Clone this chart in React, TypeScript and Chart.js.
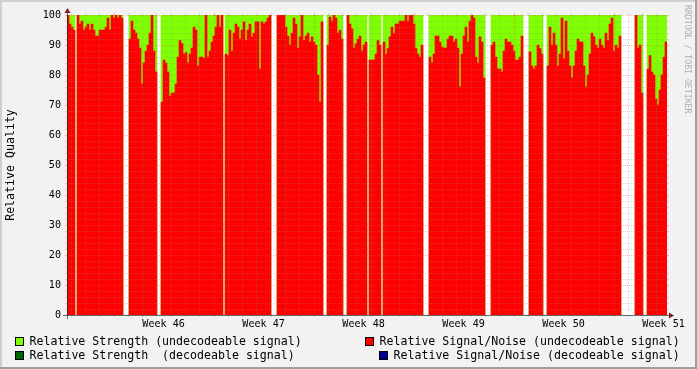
import React, { useEffect, useRef } from "react";
import { Chart, registerables } from "chart.js";

Chart.register(...registerables);

const N = null;

// Relative Signal/Noise (undecodeable signal), one sample per 2px column
const snrUndecodeable: (number | null)[] = [
  100, 97, 96, 95, N, 100, 97, 98, 95, 96,
  97, 95, 97, 95, 93, 93, 95, 95, 95, 96,
  99, 95, 100, 99, 100, 99, 100, 99, N, N,
  N, 92, 98, 95, 94, 92, 89, 77, 84, 88,
  90, 94, 100, 88, 81, N, N, 71, 85, 84,
  81, 73, 74, 74, 77, 86, 91.5, 90.5, 87, 87.5,
  84, 87, 89, 96, 95, 83, 86, 86, 85.5, 100,
  86, 88, 91, 93, 96, 100, 96, 100, N, 87,
  86.5, 95, 88, 94, 97, 96, 92, 95, 97.7, 91.5,
  95, 97, 92.7, 94, 97.7, 97.7, 82, 97.7, 97, 97.7,
  99, 100, N, N, N, 100, 100, 100, 100, 96,
  93, 90, 94, 99, 97, 89, 92.7, 100, 91.5, 93,
  94, 91, 92.7, 91, 90, 80, 71, 97.7, N, N,
  90, 99.3, 98, 100, 99, 94, 95, 92, N, N,
  100, 97, 95.4, 89, 90.4, 92, 93, 88, 90, 91,
  N, 85, 85, 85, 87, 91.5, 90, N, 91, 87,
  88.8, 92.7, 96, 93.8, 97, 97, 98, 98, 98, 100,
  98, 100, 100, 97, 88.8, 87, 86, 90, N, N,
  N, 86, 84, 87, 93, 93, 91, 89.3, 89, 89,
  92, 93, 93, 91, 92, 89, 76, 87, 93, 96,
  91, 98, 100, 99, 86, 84, 92.7, 91, 79, N,
  N, N, 90, 91, 86, 82, 82, 81, 88, 92,
  91, 91, 90, 88, 85, 85, 86, 93, N, N,
  N, 87.7, 83, 82, 83, 90, 88.8, 87, N, N,
  83, 96, 90, 94, 90, 83, 87, 99, 85.4, 98,
  88, 83, 79, 83, 88, 92, 91, 91, 83, 76,
  80, 87, 94, 92.7, 90, 89, 92, 90, 89, 94,
  91.5, 97, 99, 88, 90, 89, 93, N, N, N,
  N, N, N, N, 100, 89, 90, 74, N, N,
  82, 86.5, 81, 80, 72, 70, 75, 80, 86, 91,
];

// Relative Strength (undecodeable signal)
const strengthUndecodeable: (number | null)[] = [
  100, 100, 100, 100, N, 100, 100, 100, 100, 100,
  100, 100, 100, 100, 100, 100, 100, 100, 100, 100,
  100, 100, 100, 100, 100, 100, 100, 100, N, N,
  N, 100, 100, 100, 100, 100, 100, 100, 100, 100,
  100, 100, 100, 100, 100, N, N, 100, 100, 100,
  100, 100, 100, 100, 100, 100, 100, 100, 100, 100,
  100, 100, 100, 100, 100, 100, 100, 100, 100, 100,
  100, 100, 100, 100, 100, 100, 100, 100, N, 100,
  100, 100, 100, 100, 100, 100, 100, 100, 100, 100,
  100, 100, 100, 100, 100, 100, 100, 100, 100, 100,
  100, 100, N, N, N, 100, 100, 100, 100, 100,
  100, 100, 100, 100, 100, 100, 100, 100, 100, 100,
  100, 100, 100, 100, 100, 100, 100, 100, N, N,
  100, 100, 100, 100, 100, 100, 100, 100, N, N,
  100, 100, 100, 100, 100, 100, 100, 100, 100, 100,
  N, 100, 100, 100, 100, 100, 100, N, 100, 100,
  100, 100, 100, 100, 100, 100, 100, 100, 100, 100,
  100, 100, 100, 100, 100, 100, 100, 100, N, N,
  N, 100, 100, 100, 100, 100, 100, 100, 100, 100,
  100, 100, 100, 100, 100, 100, 100, 100, 100, 100,
  100, 100, 100, 100, 100, 100, 100, 100, 100, N,
  N, N, 100, 100, 100, 100, 100, 100, 100, 100,
  100, 100, 100, 100, 100, 100, 100, 100, N, N,
  N, 100, 100, 100, 100, 100, 100, 100, N, N,
  100, 100, 100, 100, 100, 100, 100, 100, 100, 100,
  100, 100, 100, 100, 100, 100, 100, 100, 100, 100,
  100, 100, 100, 100, 100, 100, 100, 100, 100, 100,
  100, 100, 100, 100, 100, 100, 100, N, N, N,
  N, N, N, N, 100, 100, 100, 100, N, N,
  100, 100, 100, 100, 100, 100, 100, 100, 100, 100,
];

// Decodeable-signal series are empty in this period
const strengthDecodeable: (number | null)[] = [];
const snrDecodeable: (number | null)[] = [];

// Time axis in days (day 0 = first midnight inside the graph)
const X_MIN_DAY = -0.26;
const X_MAX_DAY = 41.74;
const SAMPLE_START_DAY = -0.19;
const SAMPLE_STEP_DAYS = 0.14;
const sampleDays = snrUndecodeable.map((_, i) => SAMPLE_START_DAY + i * SAMPLE_STEP_DAYS);

const weekLabels = ["Week 46", "Week 47", "Week 48", "Week 49", "Week 50", "Week 51"];
const weekLabelDays = [6.5, 13.5, 20.5, 27.5, 34.5, 41.5];
const weekStartDays = [3, 10, 17, 24, 31, 38];
const dayCount = 42;

const Y_MIN = 0;
const Y_MAX = 100;
const Y_LABEL_STEP = 10;
const Y_MINOR_STEP = 2;

const FONT = '"DejaVu Sans Mono", monospace';
const C_RED = "#FF0000";
const C_GREEN = "#80FF00";
const C_DKGREEN = "#006600";
const C_NAVY = "#000090";
const C_GRID = "rgba(143,143,143,0.32)";
const C_MGRID = "rgba(222,79,79,0.38)";
const C_AXIS = "rgba(31,31,31,0.65)";
const C_ARROW = "#801F1F";

const legendLayout = [
  { ds: 1, boxX: 15, textX: 29.5, boxY: 337, baseline: 345 },
  { ds: 0, boxX: 365, textX: 379.5, boxY: 337, baseline: 345 },
  { ds: 2, boxX: 15, textX: 29.5, boxY: 351, baseline: 359 },
  { ds: 3, boxX: 379, textX: 393.5, boxY: 351, baseline: 359 },
];

const rrdPlugin = {
  id: "rrdStyle",
  beforeDraw(chart: any) {
    const { ctx, width, height, chartArea: a } = chart;
    ctx.save();
    ctx.fillStyle = "#F2F2F2";
    ctx.fillRect(0, 0, width, height);
    ctx.fillStyle = "#CFCFCF";
    ctx.fillRect(0, 0, width, 2);
    ctx.fillRect(0, 0, 2, height);
    ctx.fillStyle = "#9E9E9E";
    ctx.fillRect(0, height - 2, width, 2);
    ctx.fillRect(width - 2, 0, 2, height);
    ctx.fillStyle = "#FFFFFF";
    ctx.fillRect(a.left, a.top, a.right - a.left, a.bottom - a.top);
    ctx.restore();
  },
  afterDatasetsDraw(chart: any) {
    const { ctx, chartArea: a, scales } = chart;
    const xs = scales.x;
    const ys = scales.y;
    ctx.save();
    ctx.lineWidth = 1;
    // horizontal grid
    for (let v = Y_MIN + Y_MINOR_STEP; v <= Y_MAX; v += Y_MINOR_STEP) {
      const major = v % Y_LABEL_STEP === 0;
      const py = Math.round(ys.getPixelForValue(v)) + 0.5;
      ctx.strokeStyle = major ? C_MGRID : C_GRID;
      ctx.setLineDash([]);
      ctx.beginPath();
      ctx.moveTo(a.left - 2, py);
      ctx.lineTo(a.left, py);
      ctx.moveTo(a.right, py);
      ctx.lineTo(a.right + 2, py);
      ctx.stroke();
      ctx.setLineDash([1, 1]);
      ctx.beginPath();
      ctx.moveTo(a.left, py);
      ctx.lineTo(a.right, py);
      ctx.stroke();
    }
    // vertical grid
    for (let d = 0; d < dayCount; d++) {
      const major = weekStartDays.indexOf(d) >= 0;
      const px = Math.round(xs.getPixelForValue(d)) + 0.5;
      if (px < a.left || px > a.right) continue;
      ctx.strokeStyle = major ? C_MGRID : C_GRID;
      ctx.setLineDash([]);
      ctx.beginPath();
      ctx.moveTo(px, a.top - 2);
      ctx.lineTo(px, a.top);
      ctx.moveTo(px, a.bottom);
      ctx.lineTo(px, a.bottom + 2);
      ctx.stroke();
      ctx.setLineDash([1, 1]);
      ctx.beginPath();
      ctx.moveTo(px, a.top);
      ctx.lineTo(px, a.bottom);
      ctx.stroke();
    }
    // axes
    ctx.setLineDash([]);
    ctx.strokeStyle = C_AXIS;
    ctx.beginPath();
    ctx.moveTo(a.left - 4, a.bottom + 0.5);
    ctx.lineTo(a.right + 4, a.bottom + 0.5);
    ctx.moveTo(a.left + 0.5, a.bottom + 4);
    ctx.lineTo(a.left + 0.5, a.top - 4);
    ctx.stroke();
    // arrows
    ctx.fillStyle = C_ARROW;
    ctx.beginPath();
    ctx.moveTo(a.right + 2, a.bottom + 0.5 - 3);
    ctx.lineTo(a.right + 2, a.bottom + 0.5 + 3);
    ctx.lineTo(a.right + 7, a.bottom + 0.5);
    ctx.closePath();
    ctx.fill();
    ctx.beginPath();
    ctx.moveTo(a.left + 0.5 - 3, a.top - 2);
    ctx.lineTo(a.left + 0.5 + 3, a.top - 2);
    ctx.lineTo(a.left + 0.5, a.top - 7);
    ctx.closePath();
    ctx.fill();
    ctx.restore();
  },
  afterDraw(chart: any) {
    const { ctx } = chart;
    const dsets = chart.data.datasets;
    ctx.save();
    ctx.font = `11.6px ${FONT}`;
    ctx.textBaseline = "alphabetic";
    ctx.textAlign = "left";
    for (const item of legendLayout) {
      const ds = dsets[item.ds];
      ctx.fillStyle = ds.backgroundColor;
      ctx.fillRect(item.boxX, item.boxY, 9, 9);
      ctx.strokeStyle = "#000";
      ctx.lineWidth = 1;
      ctx.strokeRect(item.boxX + 0.5, item.boxY + 0.5, 8, 8);
      ctx.fillStyle = "#000";
      ctx.fillText(ds.label, item.textX, item.baseline);
    }
    // watermark
    ctx.translate(687.5, 5);
    ctx.rotate(Math.PI / 2);
    ctx.font = `8.2px ${FONT}`;
    ctx.fillStyle = "rgba(0,0,0,0.3)";
    ctx.textBaseline = "middle";
    ctx.fillText("RRDTOOL / TOBI OETIKER", 0, 0);
    ctx.restore();
  },
};

export default function App() {
  const ref = useRef<HTMLCanvasElement>(null);
  useEffect(() => {
    const barCommon = {
      barPercentage: 1,
      categoryPercentage: 1,
      borderWidth: 0,
      grouped: false,
    };
    const chart = new Chart(ref.current as HTMLCanvasElement, {
      type: "bar",
      data: {
        labels: sampleDays,
        datasets: [
          { label: "Relative Signal/Noise (undecodeable signal)", data: snrUndecodeable, backgroundColor: C_RED, ...barCommon },
          { label: "Relative Strength (undecodeable signal)", data: strengthUndecodeable, backgroundColor: C_GREEN, ...barCommon },
          { label: "Relative Strength  (decodeable signal)", data: strengthDecodeable, backgroundColor: C_DKGREEN, ...barCommon },
          { label: "Relative Signal/Noise (decodeable signal)", data: snrDecodeable, backgroundColor: C_NAVY, ...barCommon },
        ],
      } as any,
      options: {
        responsive: false,
        animation: false,
        devicePixelRatio: 1,
        layout: { padding: { left: 0, right: 30, top: 15, bottom: 0 } },
        plugins: { legend: { display: false }, tooltip: { enabled: false } },
        scales: {
          x: {
            type: "linear",
            min: X_MIN_DAY,
            max: X_MAX_DAY,
            offset: false,
            grid: { display: false, drawTicks: false, offset: false },
            border: { display: false },
            afterBuildTicks: (s: any) => {
              s.ticks = weekLabelDays.map((v) => ({ value: v }));
            },
            afterFit: (s: any) => {
              s.height = 54;
            },
            ticks: {
              autoSkip: false,
              maxRotation: 0,
              minRotation: 0,
              padding: 3,
              color: "#000",
              font: { family: FONT, size: 10.1 },
              callback: (v: any) => {
                const k = weekLabelDays.indexOf(Number(v));
                return k >= 0 ? weekLabels[k] : "";
              },
            },
          },
          y: {
            type: "linear",
            min: Y_MIN,
            max: Y_MAX,
            grid: { display: false, drawTicks: false },
            border: { display: false },
            afterFit: (s: any) => {
              s.width = 67;
            },
            ticks: {
              stepSize: Y_LABEL_STEP,
              padding: 6,
              color: "#000",
              font: { family: FONT, size: 10.1 },
            },
            title: {
              display: true,
              text: "Relative Quality",
              color: "#000",
              font: { family: FONT, size: 11.6 },
              padding: { top: 4.5, bottom: 0 },
            },
          },
        },
      } as any,
      plugins: [rrdPlugin],
    });
    return () => chart.destroy();
  }, []);
  return (
    <div style={{ position: "absolute", left: 0, top: 0, width: 697, height: 369 }}>
      <canvas ref={ref} width={697} height={369} style={{ display: "block", width: 697, height: 369 }} />
    </div>
  );
}
